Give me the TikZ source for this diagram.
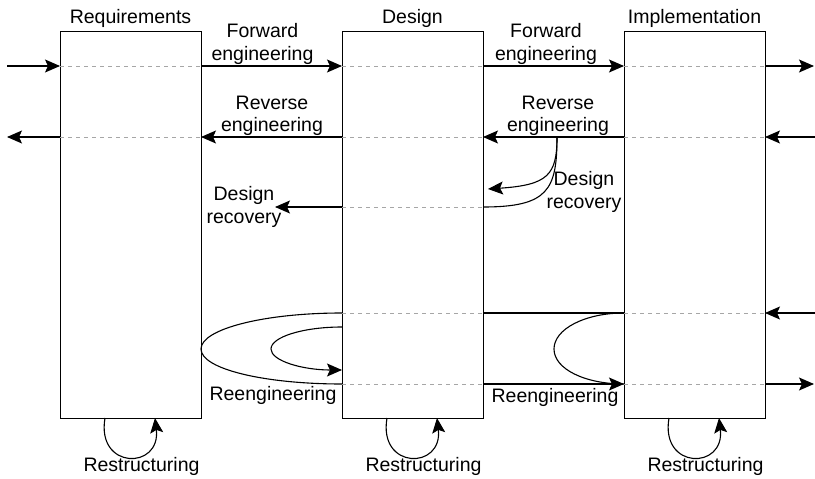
\documentclass[tikz,border=0pt]{standalone}
\usepackage{fontspec}
\setmainfont{Liberation Sans}
\usetikzlibrary{positioning,arrows.meta}

\begin{document}
\begin{tikzpicture}[x=1pt,y=-1pt,node distance=141pt,
 box/.style={draw,line width=1pt,minimum width=141pt,minimum height=387pt,inner sep=0pt,outer sep=0pt},
 t/.style={font=\fontsize{19.5}{22.5}\selectfont,align=center,inner sep=0pt},
 a/.style={-{Stealth[length=15pt,width=13pt,inset=3pt]},line width=1.1pt},
 l/.style={line width=1.1pt},
 dl/.style={gray!70,line width=.8pt,dash pattern=on 4pt off 4pt}]
\useasboundingbox (0,0) rectangle (815,479);
% phases
\node[box] (req) at (130.5,224.5) {};
\node[box,right=of req] (des) {};
\node[box,right=of des] (imp) {};
\node[t,above=3pt of req] (reqt) {Requirements};
\node[t,above=3pt of des] (dest) {Design};
\node[t,above=3pt of imp] (impt) {Implementation};
% rows and free ends
\coordinate (r1) at (0,66);
\coordinate (r2) at (0,137);
\coordinate (r3) at (0,207);
\coordinate (r4) at (0,313);
\coordinate (r4b) at (0,327);
\coordinate (r5b) at (0,370);
\coordinate (r5) at (0,384);
\coordinate (inL) at (7,66);
\coordinate (outL) at (7,137);
\coordinate (outR1) at (814,66);
\coordinate (inR1) at (815,137);
\coordinate (inR2) at (815,313);
\coordinate (outR2) at (814,384);
\coordinate (drL) at (275,207);
\coordinate (rv) at (557,137);
\coordinate (re1o) at (201,349);
\coordinate (re1i) at (271,349);
\coordinate (re2) at (554,349);
% dashed paths through the boxes
\draw[dl] (req.west|-r1)--(req.east|-r1);\draw[dl] (req.west|-r2)--(req.east|-r2);
\draw[dl] (des.west|-r1)--(des.east|-r1);\draw[dl] (des.west|-r2)--(des.east|-r2);
\draw[dl] (des.west|-r3)--(des.east|-r3);\draw[dl] (des.west|-r4)--(des.east|-r4);
\draw[dl] (des.west|-r5)--(des.east|-r5);
\draw[dl] (imp.west|-r1)--(imp.east|-r1);\draw[dl] (imp.west|-r2)--(imp.east|-r2);
\draw[dl] (imp.west|-r4)--(imp.east|-r4);\draw[dl] (imp.west|-r5)--(imp.east|-r5);
% forward and reverse
\draw[a] (inL)--(req.west|-r1);
\draw[a] (req.east|-r1)--(des.west|-r1);
\draw[a] (des.east|-r1)--(imp.west|-r1);
\draw[a] (imp.east|-r1)--(outR1);
\draw[a] (inR1)--(imp.east|-r2);
\draw[a] (imp.west|-r2)--(des.east|-r2);
\draw[a] (des.west|-r2)--(req.east|-r2);
\draw[a] (req.west|-r2)--(outL);
% design recovery
\draw[a] (rv) .. controls (557,175) and (548,185) .. (488,189);
\draw[l] (rv) .. controls (557,190) and (548,207) .. (des.east|-r3);
\draw[a] (des.west|-r3)--(drL);
% reengineering
\draw[l] (des.west|-r4) .. controls +(-78,0) and +(0,-20) .. (re1o) .. controls +(0,20) and +(-78,0) .. (des.west|-r5);
\draw[a] (des.west|-r4b) .. controls +(-39,0) and +(0,-12) .. (re1i) .. controls +(0,12) and +(-39,0) .. (des.west|-r5b);
\draw[l] (des.east|-r4)--(imp.west|-r4);
\draw[a] (des.east|-r5)--(imp.west|-r5);
\draw[l] (imp.west|-r4) .. controls +(-39,0) and +(0,-20) .. (re2) .. controls +(0,20) and +(-39,0) .. (imp.west|-r5);
\draw[a] (inR2)--(imp.east|-r4);
\draw[a] (imp.east|-r5)--(outR2);
% restructuring
\foreach \b in {req,des,imp}{
  \draw[a] ([xshift=45pt]\b.south west) .. controls +(-9,52) and +(6,52) .. ([xshift=95pt]\b.south west);
  \node[t] (\b-rs) at ([xshift=11pt,yshift=-48pt]\b.south) {Restructuring};
}
% labels
\node[t] (fw1) at (262.5,44) {Forward\\engineering};
\node[t] (fw2) at (546,44) {Forward\\engineering};
\node[t] (rv1) at (272,116) {Reverse\\engineering};
\node[t] (rv2) at (558,116) {Reverse\\engineering};
\node[t] (dr1) at (244,207) {Design\\recovery};
\node[t] (dr2) at (584,192) {Design\\recovery};
\node[t] (re1) at (273,395) {Reengineering};
\node[t] (re2l) at (555,397) {Reengineering};
\end{tikzpicture}
\end{document}
